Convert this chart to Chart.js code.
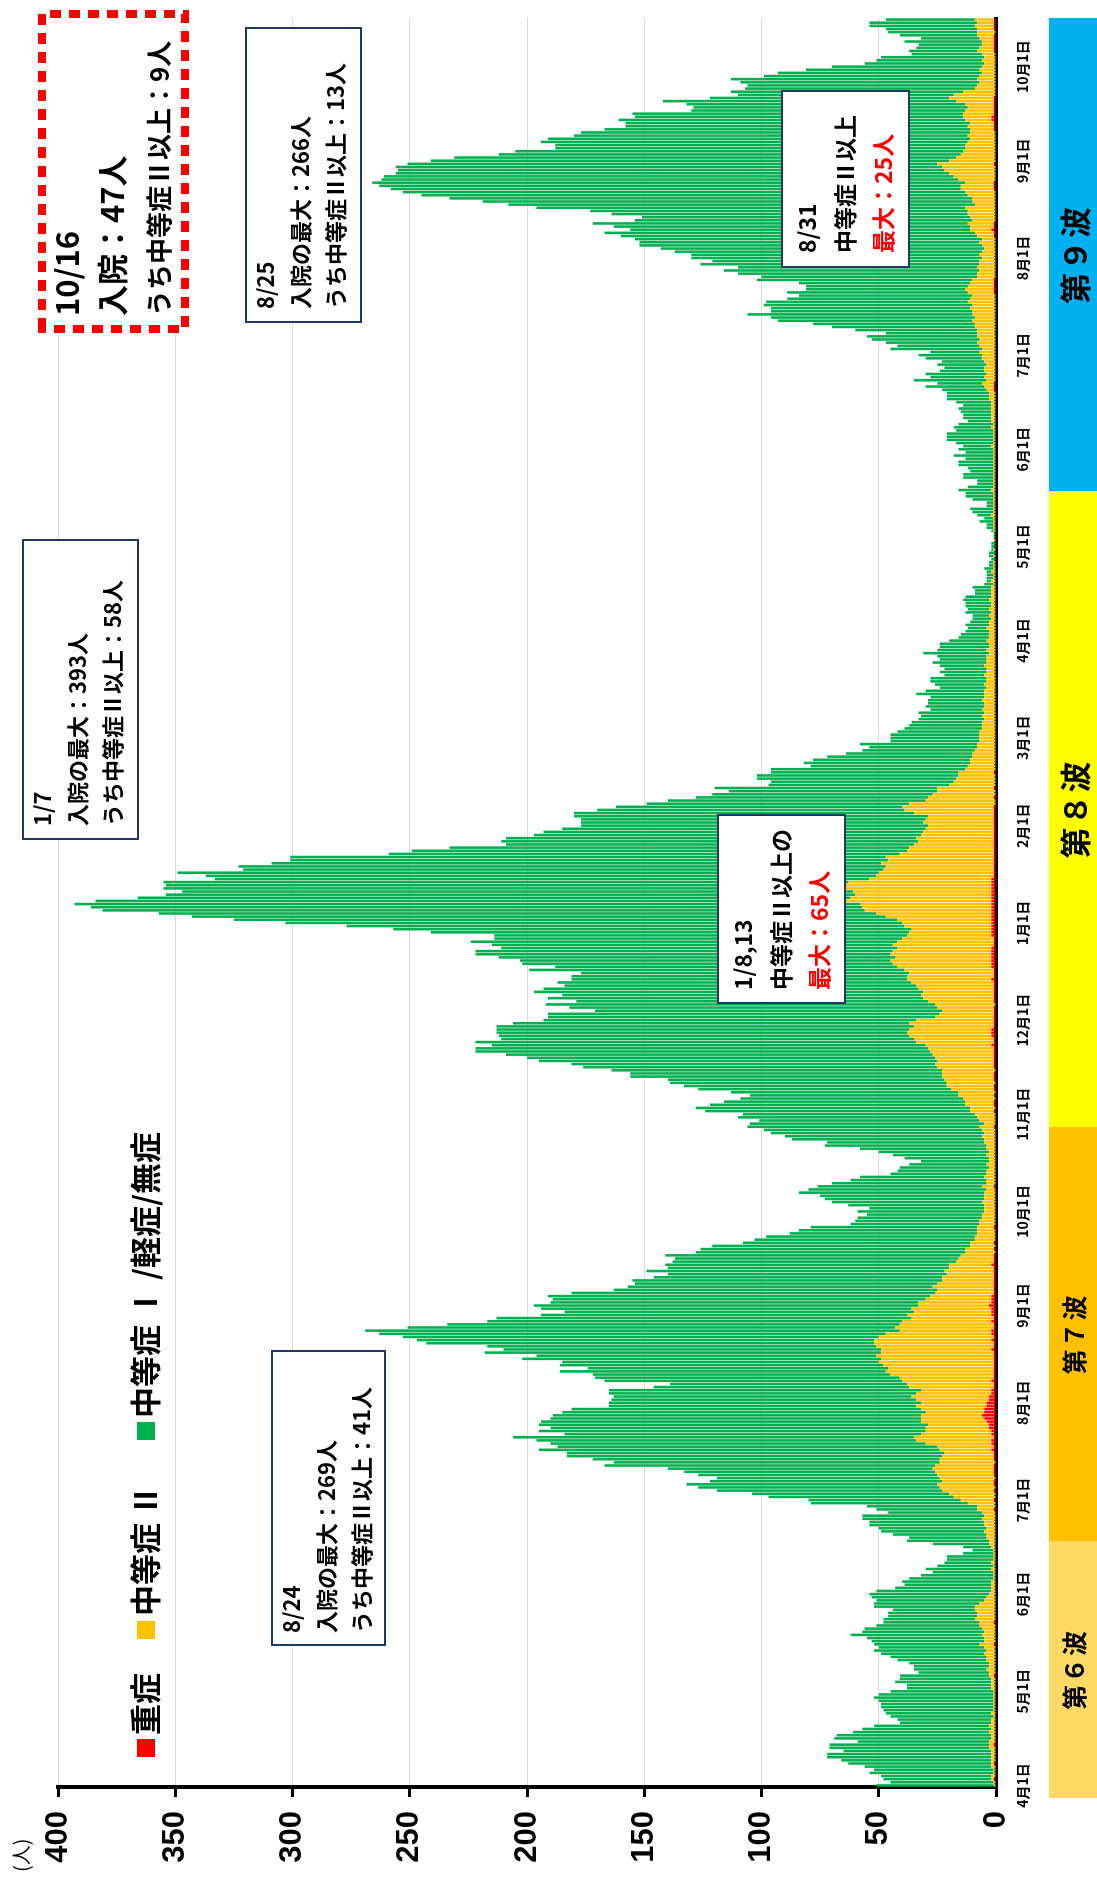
<!DOCTYPE html>
<html lang="ja">
<head>
<meta charset="utf-8">
<title>入院者数の推移</title>
<script src="https://cdn.jsdelivr.net/npm/chart.js@4.4.1/dist/chart.umd.min.js"></script>
<style>
  html, body { margin: 0; padding: 0; background: #fff; }
  #page { position: relative; width: 1097px; height: 1888px; overflow: hidden; }
  /* chart is laid out landscape, then turned 90deg counter-clockwise */
  #stage { position: absolute; left: 0; top: 0; width: 1888px; height: 1097px;
           transform-origin: 0 0; transform: translateY(1888px) rotate(-90deg);
           font-family: "Noto Sans CJK JP", sans-serif; color: #000; }
  #chart { position: absolute; left: 0; top: 0; width: 1888px; height: 1097px; }
  .box { position: absolute; box-sizing: border-box; background: #fff; border: 2px solid #1F3864;
         font-weight: 700; white-space: nowrap; }
  .box div { height: 35px; line-height: 35px; }
  .red { color: #FF0000; }
  .lg { position: absolute; font-weight: 700; font-size: 31px; line-height: 34px; top: 127px; white-space: nowrap; }
  .sq { position: absolute; top: 137px; width: 18px; height: 18px; }
  .wave { position: absolute; top: 1049px; height: 48px; display: flex; align-items: center;
          justify-content: center; font-weight: 700; letter-spacing: 2px; }
  #unit { position: absolute; left: 16px; top: 6px; font-size: 20px; }
</style>
</head>
<body>
<div id="page">
  <div id="stage">
    <canvas id="chart" width="1888" height="1097"></canvas>

    <div id="unit">(人)</div>

    <div class="sq" style="left:131px;background:#FF0000"></div>
    <div class="lg" style="left:153px">重症</div>
    <div class="sq" style="left:249px;background:#FFC000"></div>
    <div class="lg" style="left:272px">中等症 Ⅱ</div>
    <div class="sq" style="left:448px;background:#00B050"></div>
    <div class="lg" style="left:470px">中等症 Ⅰ /軽症/無症</div>

    <div class="wave" style="left:90px;width:257px;background:#FFD966;font-size:25px">第６波</div>
    <div class="wave" style="left:347px;width:414px;background:#FFC000;font-size:25px">第７波</div>
    <div class="wave" style="left:761px;width:636px;background:#FFFF00;font-size:31px">第８波</div>
    <div class="wave" style="left:1397px;width:473px;background:#00B0F0;font-size:31px">第９波</div>

    <div class="box" style="left:242px;top:271px;width:296px;height:115px;font-size:22px;padding-left:11px">
      <div>8/24</div><div>入院の最大：269人</div><div>うち中等症Ⅱ以上：41人</div>
    </div>
    <div class="box" style="left:1048px;top:22px;width:301px;height:117px;font-size:22px;padding-left:12px">
      <div>1/7</div><div>入院の最大：393人</div><div>うち中等症Ⅱ以上：58人</div>
    </div>
    <div class="box" style="left:884px;top:717px;width:190px;height:129px;font-size:23px;padding:4px 0 0 12px">
      <div style="height:38px;line-height:38px">1/8,13</div>
      <div style="height:38px;line-height:38px">中等症Ⅱ以上の</div>
      <div class="red" style="height:38px;line-height:38px">最大：65人</div>
    </div>
    <div class="box" style="left:1565px;top:245px;width:296px;height:117px;font-size:22px;padding-left:12px">
      <div>8/25</div><div>入院の最大：266人</div><div>うち中等症Ⅱ以上：13人</div>
    </div>
    <div class="box" style="left:1620px;top:781px;width:178px;height:129px;font-size:23px;padding:4px 0 0 13px">
      <div style="height:38px;line-height:38px">8/31</div>
      <div style="height:38px;line-height:38px">中等症Ⅱ以上</div>
      <div class="red" style="height:38px;line-height:38px">最大：25人</div>
    </div>

    <svg style="position:absolute;left:1555px;top:38px" width="323" height="151">
      <rect x="4" y="4" width="315" height="143" fill="#fff" stroke="#FF0000" stroke-width="8" stroke-dasharray="11 8"/>
    </svg>
    <div style="position:absolute;left:1572px;top:46px;font-weight:700;white-space:nowrap">
      <div style="font-size:31px;height:40px;line-height:40px">10/16</div>
      <div style="font-size:31px;height:50px;line-height:50px">入院：47人</div>
      <div style="font-size:26px;height:44px;line-height:44px">うち中等症Ⅱ以上：9人</div>
    </div>
  </div>
</div>

<script>
// daily inpatients from 2022-04-01 to 2023-10-16
const inpatientTotal = [
  51,45,48,49,54,52,56,63,66,72, 72,65,71,71,59,69,68,61,57,52,
  41,42,45,47,48,49,49,50,52,50, 45,38,38,43,41,41,33,35,35,37,
  42,45,49,52,50,52,53,55,62,57, 56,51,48,48,46,46,44,52,52,51,
  53,54,51,43,39,40,37,32,27,
  30,25,22,21,21,14,10,14,27,38, 37,44,49,50,54,54,57,57,46,51,
  55,79,80,97,104,119,127,132,122,119, 127,133,140,167,163,172,183,183,195,187,
  190,196,206,184,195,190,195,194,190,189, 185,181,165,165,164,163,165,165,146,139,
  167,171,172,186,174,186,185,202,196,218, 210,217,243,247,253,263,269,251,234,217,
  213,194,184,194,197,190,189,191,181,163,
  157,154,155,146,140,149,140,141,138,137, 141,128,126,121,108,103,98,88,84,79,
  62,60,59,55,59,54,63,70,73,75, 84,80,76,70,62,58,45,42,41,37,
  32,39,44,50,58,73,72,87,90,96, 99,106,105,101,110,108,124,128,122,116,
  109,105,113,127,133,139,140,156,156,164, 176,181,195,200,209,222,222,215,222,211,
  212,213,213,213,206,193,191,191,171,182, 192,179,191,185,197,193,184,187,181,181,
  177,199,188,202,203,212,222,222,211,215, 224,214,214,241,257,277,303,325,
  343,357,381,386,393,384,366,354,347,355, 354,355,333,337,349,321,323,309,301,301,
  259,249,233,209,211,209,197,193,185,177, 177,177,180,180,170,162,149,140,128,121,
  114,120,97,96,102,102,96,96,79,82, 78,72,64,57,54,58,45,45,
  45,42,39,37,36,33,32,33,28,30, 29,29,28,34,30,24,26,28,28,22,
  24,22,24,27,24,25,31,25,24,24, 20,16,15,13,12,13,11,10,10,13,
  12,13,13,14,13,9,9,10,5,4, 4,4,4,5,3,3,
  2,3,3,2,2,2,1,1,1,2, 4,4,7,5,8,10,11,4,4,10,
  13,13,16,12,8,8,14,14,11,12, 16,16,13,18,13,16,14,17,21,21,
  21,17,18,16,12,14,14,15,16,14, 17,21,21,21,23,
  30,25,35,28,30,24,22,25,23,30, 33,28,45,42,47,53,55,47,60,70,
  78,93,96,106,96,96,99,98,89,84, 89,81,81,84,102,100,110,116,110,126,
  121,130,130,137,143,152,152,154,160,167, 156,163,172,154,151,164,173,196,
  208,219,233,245,253,258,263,266,
  262,261,256,255,256,251,241,231,212,205, 188,188,194,191,180,177,167,158,158,161,
  154,155,130,129,132,142,122,110,113,107, 106,109,113,99,93,81,70,56,51,
  49,36,37,34,33,39,32,41,46,47, 54,54,47
];

// 中等症Ⅱ
const moderate2 = [
  1,1,1,2,1,1,2,1,2,2, 2,2,3,2,3,2,2,3,2,3, 2,2,1,2,1,1,1,1,1,1,
  1,2,2,2,2,2,3,4,3,3, 4,4,5,4,5,6,5,5,6,5, 6,7,6,9,8,8,9,9,7,5,
  4,3,2,2,2,2,1,1,1,
  2,1,2,1,1,1,1,2, 3,3,4,4,5,4,5,5,6,5,6,7,
  8,12,14,18,20,22,24,24,22,24, 24,25,26,25,24,23,22,21,22,24,
  28,32,34,30,28, 27,26,28,27,26,25,27, 30,28,31,33,32,30, 36,37,38,40,
  44,46,45,47,49,48,50,48,47, 50,51,50,49,45,39,
  42,40,38,35,36,33,34,30,31,28,26,25,24,
  26,24,22,22,20,21,19,18, 16,15,14,13,12,11, 10,9,9,8,8,7,7,
  7,6,6,5,5,5,6,5, 5,5,4,5,4,4,5,4, 4,3,4,3,3,4,3,4,4,
  5,5,6,5,6,6,5,7, 8,9,10,11,12,12,
  14,15,16, 18,20,21,21,22,22, 23,24,25,24,25, 26,27,28,28,
  33,34,35,36,35,34,36,33, 25,23,22,24,26, 28,30,31,30,32,33,
  35,36,37,36,38, 40,42,43,41,43, 42,40,43,41,39, 36,35,34, 37,38,40,
  45,49, 54,55,56, 63, 60,58,59,62, 63, 61, 52,50,49, 47,46,48,45,46,
  40,37,36, 34,32,33,31,30, 29,28,30,29,28, 34,38,39,37, 30,28,27,25,24,
  20,18,17,16,15, 13,12,11,11,10, 10,9,8,8,7,7,
  7,7,6,6, 6,5,6,5,6,5,5,6,5,5, 5,4,5,4,4,5,4,4,5,4,4,
  4,3,4,3,3,4,3,3,3,4,3, 3,2,3,2,3,2,2,3,2,2, 2,2,1,2,1,1,2,1,1,1,
  0,1,0,1,0,0,1,0,0,1, 1,1,1,1,2,1,1,1,1,1, 1,1,2,1,1,1,1,1,1,1,
  1,1,1,1,1,1,2,1,1,1, 1,1,2,1,2,2,2,2,2,2, 2,3,3,3,3,
  4,5,4,5,4,5,5,4,5,6, 6,7,6,7,8,7,8,8, 8,9,9,10,9,10,10,
  11,10,12,11,10,11,12,11,10, 9,8,8,7,8,7,7, 6,7,6,5,6,7,6,7,
  8,9,10,11,10,11, 12,12,13,
  9,10,10, 12,13,14,14, 12, 16,18,20,22,23, 24, 20,17,15,14,13,13,
  12,11,12,11,10,11,10, 11,12,13,12,11,12, 16,19,18,14,
  9,8,7,8,7,6,7,6,5, 6,5,6,7,6,5,5,6,7,8,7,8,7,8
];

// 重症
const severe = [
  0,0,1,0,0,0,0,1,0,0,0,0,0,1,0,0,0,0,0,0,
  0,0,0,0,0,0,0,0,0,0,0,0,0,0,0,1,0,0,0,0,
  0,0,0,0,0,1,0,0,0,0,0,0,1,0,0,0,0,0,0,0,
  0,0,0,0,0,0,0,0,0,0,0,0,0,0,0,0,0,0,0,0,
  0,0,0,0,0,0,0,0,1,0,0,1,0,0,1,0,1,1,0,1,
  1,1,1,0,1,1,1,2,1,2,2,1,2,2,3,3,4,5,6,5,
  5,4,4,3,3,2,2,1,1,2,1,1,1,1,1,1,1,1,1,2,
  1,1,2,1,2,2,1,1,2,1,2,2,2,3,2,2,2,1,1,1,
  1,1,1,1,1,1,2,1,1,1,0,1,0,1,0,0,0,0,1,0,
  0,0,0,0,0,0,0,0,0,0,0,1,0,0,0,0,0,0,0,0,
  0,0,0,0,0,0,0,0,0,0,1,0,0,0,0,1,0,1,1,0,
  1,0,1,1,0,1,1,1,0,1,1,1,1,1,1,1,2,1,1,2,
  2,2,1,1,1,1,1,1,1,0,1,1,1,1,1,1,1,2,1,1,
  1,2,2,2,2,2,2,2,1,1,1,2,2,2,2,2,2,2,2,2,
  2,2,2,2,2,2,2,2,2,2,1,1,1,1,1,1,1,1,1,1,
  1,1,1,1,1,1,1,1,1,1,1,1,1,0,0,1,0,0,1,0,
  0,0,0,1,0,0,0,0,0,0,0,0,0,0,0,0,0,0,0,0,
  0,0,0,0,0,0,0,0,0,0,0,0,0,0,0,0,0,0,0,0,
  0,0,0,0,0,0,0,0,0,0,0,0,0,0,0,0,0,0,0,0,
  0,0,0,0,0,0,0,0,0,0,0,0,0,0,0,0,0,0,0,0,
  0,0,0,0,0,0,0,0,0,0,0,0,0,0,0,0,0,0,0,0,
  0,0,0,0,0,0,0,0,0,0,0,0,0,0,0,0,0,0,0,0,
  0,0,0,0,0,1,1,1,0,0,0,0,0,0,0,0,0,0,0,0,
  0,0,0,0,0,0,0,0,0,0,0,0,0,0,0,0,1,1,1,1,
  1,0,0,0,0,0,0,0,0,0,0,0,0,0,1,1,2,1,1,0,
  0,0,0,0,0,0,0,0,0,1,1,1,0,0,0,0,0,1,0,0,
  0,0,0,0,0,0,0,0,1,1,1,2,2,1,1,1,1,1,1,0,
  0,0,0,0,0,0,0,0,0,0,0,0,0,1,1,1,1,1,1,0,
  1,1,1,1
];

const yTicks = [0, 50, 100, 150, 200, 250, 300, 350, 400];

// one category per day
const startDay = Date.UTC(2022, 3, 1);
const dates = inpatientTotal.map((_, i) => new Date(startDay + i * 86400000).toISOString().slice(0, 10));
const isMonthStart = i => dates[i] !== undefined && dates[i].slice(8) === '01';

// 中等症Ⅰ/軽症/無症 = total minus the two lower parts
const mild = inpatientTotal.map((t, i) => Math.max(0, t - severe[i] - moderate2[i]));

const ctx = document.getElementById('chart').getContext('2d');
new Chart(ctx, {
    type: 'bar',
    data: {
        labels: dates,
        datasets: [
            { label: '重症', data: severe, backgroundColor: '#FF0000' },
            { label: '中等症Ⅱ', data: moderate2, backgroundColor: '#FFC000' },
            { label: '中等症Ⅰ/軽症/無症', data: mild, backgroundColor: '#00B050' }
        ]
    },
    options: {
        responsive: false,
        animation: false,
        layout: { padding: { top: 58, right: 18, left: 0, bottom: 0 } },
        datasets: { bar: { barPercentage: 0.82, categoryPercentage: 1.0 } },
        plugins: { legend: { display: false }, tooltip: { enabled: false } },
        scales: {
            x: {
                stacked: true,
                offset: true,
                grid: {
                    display: true,
                    offset: true,
                    drawOnChartArea: false,
                    tickLength: 6,
                    tickWidth: 3,
                    tickColor: c => isMonthStart(c.index) ? '#000' : 'rgba(0,0,0,0)'
                },
                border: { display: true, color: '#000', width: 4 },
                ticks: {
                    autoSkip: false,
                    maxRotation: 0,
                    minRotation: 0,
                    padding: 12,
                    color: '#000',
                    font: { family: 'Noto Sans CJK JP', size: 14, weight: 'bold' },
                    callback: function(value, index) {
                        if (!isMonthStart(index)) return null;
                        return Number(dates[index].slice(5, 7)) + '月1日';
                    }
                },
                afterFit: s => { s.height = 101; }
            },
            y: {
                stacked: true,
                min: 0,
                max: 400,
                afterBuildTicks: s => { s.ticks = yTicks.map(v => ({ value: v })); },
                grid: {
                    color: '#D9D9D9',
                    lineWidth: 1,
                    tickColor: '#000',
                    tickLength: 10,
                    tickWidth: 3
                },
                border: { display: true, color: '#000', width: 4 },
                ticks: {
                    padding: 14,
                    color: '#000',
                    font: { family: 'Liberation Sans', size: 31, weight: 'bold' }
                },
                afterFit: s => { s.width = 101; }
            }
        }
    }
});
</script>
</body>
</html>
